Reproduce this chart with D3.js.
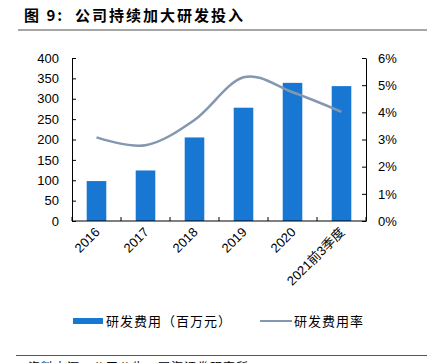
<!DOCTYPE html>
<html>
<head>
<meta charset="utf-8">
<script src="https://cdn.jsdelivr.net/npm/d3@7"></script>
<style>
  body { margin: 0; background: #fff; }
  text { font-family: "Liberation Sans", Arial, "Noto Sans CJK SC", sans-serif; }
</style>
</head>
<body>
<div id="chart"></div>
<script>
const width = 427;
const height = 363;

const categories = ['2016', '2017', '2018', '2019', '2020', '2021前3季度'];
const rdSpend = [98, 124, 205, 278, 339, 331];          // 研发费用（百万元）
const rdRate = [3.08, 2.79, 3.72, 5.29, 4.74, 4.02];   // 研发费用率 %
const leftTicks = [0, 50, 100, 150, 200, 250, 300, 350, 400];
const rightTicks = [0, 1, 2, 3, 4, 5, 6];

const barColor = '#1777d3';
const lineColor = '#8497b0';

const svg = d3.select('#chart')
  .append('svg')
  .attr('width', width)
  .attr('height', height);

// title
svg.append('text')
  .attr('x', 24)
  .attr('y', 21)
  .style('font-family', '"Noto Sans CJK SC", sans-serif')
  .style('font-size', '15px')
  .style('font-weight', 'bold')
  .style('white-space', 'pre')
  .style('letter-spacing', '2px')
  .text('图 9:  公司持续加大研发投入');

svg.append('line')
  .attr('x1', 18).attr('x2', width)
  .attr('y1', 30).attr('y2', 30)
  .attr('stroke', '#888')
  .attr('stroke-width', 1.5);

const plot = { left: 72, right: 366, top: 58, bottom: 221 };

const x = d3.scaleBand()
  .domain(categories)
  .range([plot.left, plot.right])
  .paddingInner(0.6)
  .paddingOuter(0.3);

const yL = d3.scaleLinear().domain([0, 400]).range([plot.bottom, plot.top]);
const yR = d3.scaleLinear().domain([0, 6]).range([plot.bottom, plot.top]);

// bars
svg.selectAll('rect.bar')
  .data(rdSpend)
  .enter()
  .append('rect')
  .attr('class', 'bar')
  .attr('x', (d, i) => x(categories[i]))
  .attr('width', x.bandwidth())
  .attr('y', d => yL(d))
  .attr('height', d => yL(0) - yL(d))
  .attr('fill', barColor);

// smoothed line
const line = d3.line()
  .x((d, i) => x(categories[i]) + x.bandwidth() / 2)
  .y(d => yR(d))
  .curve(d3.curveCatmullRom.alpha(0));

svg.append('path')
  .datum(rdRate)
  .attr('d', line)
  .attr('fill', 'none')
  .attr('stroke', lineColor)
  .attr('stroke-width', 2.5);

// left axis
const leftAxis = svg.append('g')
  .attr('transform', `translate(${plot.left},0)`)
  .call(d3.axisLeft(yL).tickValues(leftTicks).tickSizeInner(-4).tickSizeOuter(0).tickPadding(13));

// right axis
const rightAxis = svg.append('g')
  .attr('transform', `translate(${plot.right},0)`)
  .call(d3.axisRight(yR).tickValues(rightTicks).tickFormat(d => d + '%')
    .tickSizeInner(-4).tickSizeOuter(0).tickPadding(12));

// bottom axis
const steps = d3.range(categories.length + 1).map(i => plot.left + i * x.step());
const bottom = svg.append('g');
bottom.append('line')
  .attr('x1', plot.left).attr('x2', plot.right)
  .attr('y1', plot.bottom).attr('y2', plot.bottom)
  .attr('stroke', '#000');
bottom.selectAll('line.tick')
  .data(steps)
  .enter()
  .append('line')
  .attr('class', 'tick')
  .attr('x1', d => d).attr('x2', d => d)
  .attr('y1', plot.bottom).attr('y2', plot.bottom - 4)
  .attr('stroke', '#000');

bottom.selectAll('text.cat')
  .data(categories)
  .enter()
  .append('text')
  .attr('class', 'cat')
  .attr('text-anchor', 'end')
  .attr('transform', d => `translate(${x(d) + x.bandwidth() / 2 + 4},${plot.bottom + 12}) rotate(-45)`)
  .style('font-size', '13px')
  .text(d => d);

[leftAxis, rightAxis].forEach(g => {
  g.selectAll('.domain').attr('stroke', '#000');
  g.selectAll('.tick line').attr('stroke', '#000');
  g.selectAll('text').style('font-size', '13px').attr('fill', '#000');
});

// legend
const legend = svg.append('g');
legend.append('rect')
  .attr('x', 73).attr('y', 318).attr('width', 30).attr('height', 6)
  .attr('fill', barColor);
legend.append('text')
  .attr('x', 106).attr('y', 326)
  .style('font-size', '13px')
  .style('letter-spacing', '1px')
  .style('font-family', '"Noto Sans CJK SC", sans-serif')
  .text('研发费用（百万元）');
legend.append('line')
  .attr('x1', 260).attr('x2', 292)
  .attr('y1', 321).attr('y2', 321)
  .attr('stroke', lineColor)
  .attr('stroke-width', 2);
legend.append('text')
  .attr('x', 294).attr('y', 326)
  .style('font-size', '13px')
  .style('letter-spacing', '1px')
  .style('font-family', '"Noto Sans CJK SC", sans-serif')
  .text('研发费用率');

// footer (cut off at the bottom edge, as in the source image)
svg.append('line')
  .attr('x1', 16).attr('x2', width)
  .attr('y1', 355.5).attr('y2', 355.5)
  .attr('stroke', '#555')
  .attr('stroke-width', 1);
svg.append('text')
  .attr('x', 28).attr('y', 372)
  .style('font-size', '12px')
  .style('letter-spacing', '1px')
  .style('font-family', '"Noto Sans CJK SC", sans-serif')
  .text('资料来源：公司公告，国海证券研究所');
</script>
</body>
</html>
